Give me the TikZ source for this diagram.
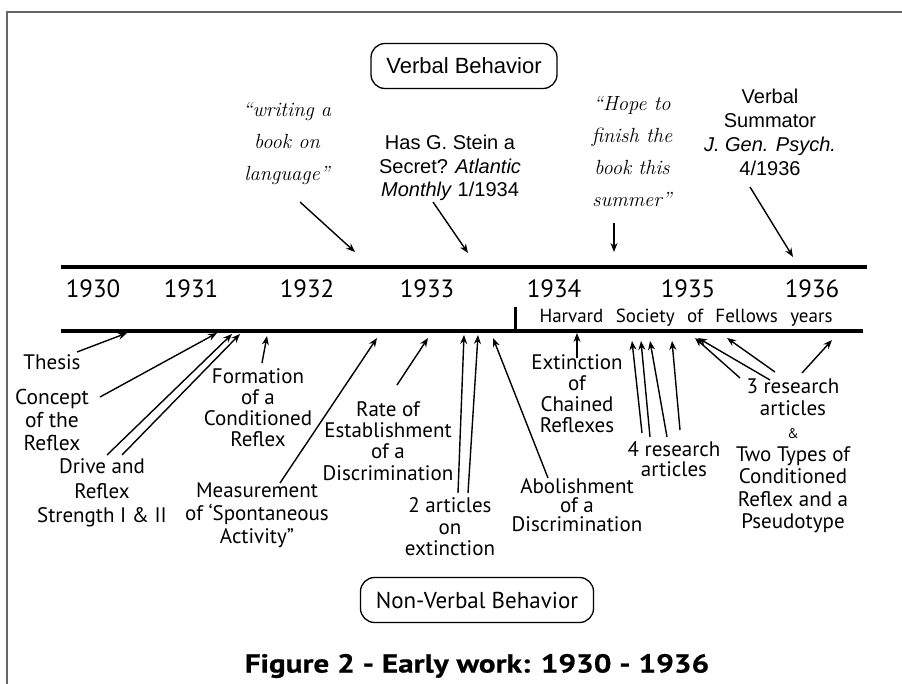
\documentclass[tikz,border=0pt]{standalone}
\usepackage{fontspec}
\usepackage{tikz}
\usetikzlibrary{arrows.meta}
\newfontfamily\gillfont{PT Sans}
\newfontfamily\titlefont[FakeStretch=1.2,FakeBold=0.6]{PT Sans Bold}
\newfontfamily\arialfont{Liberation Sans}

\begin{document}
\begin{tikzpicture}
  [x=1pt,y=-1pt,
   lab/.style={font=\gillfont\fontsize{21}{22}\selectfont,align=center,inner sep=0pt},
   yr/.style={font=\gillfont\fontsize{25}{25}\selectfont,inner sep=0pt},
   quote/.style={font=\itshape\fontsize{20.5}{32}\selectfont,align=center,inner sep=0pt},
   ref/.style={font=\arialfont\fontsize{20}{24}\selectfont,align=center,inner sep=0pt},
   box/.style={draw,line width=1.3pt,rounded corners=14pt,minimum height=45pt},
   arr/.style={-{Stealth[length=9pt,width=7pt]},line width=1.4pt}]
  \useasboundingbox (0,0) rectangle (902,684);
  \draw[black!60,line width=2pt] (902,12) -- (7,12) -- (7,684);

  \node[box,ref,font=\arialfont\fontsize{22}{22}\selectfont,minimum width=186pt] (verbal) at (464,66) {Verbal Behavior};
  \node[box,lab,font=\gillfont\fontsize{23}{23}\selectfont,minimum width=233pt] (nonverbal) at (477,600) {Non-Verbal Behavior};

  % verbal side
  \node[quote] (writing) at (287,143) {“writing a\\book on\\language”};
  \node[ref,font=\arialfont\fontsize{20}{23.5}\selectfont] (stein) at (450,168) {Has G. Stein a\\Secret? \textit{Atlantic}\\\textit{Monthly} 1/1934};
  \node[quote] (hope) at (632,152) {“Hope to\\finish the\\book this\\summer”};
  \node[ref] (summator) at (770,132) {Verbal\\Summator\\\textit{J. Gen. Psych.}\\4/1936};

  % time line
  \draw[line width=4.5pt] (61,267) -- (867,267);
  \draw[line width=4.5pt] (61,331) -- (863,331);
  \draw[line width=3pt] (515,307) -- (515,331);
  \foreach \yr/\x in {1930/93,1931/191,1932/307,1933/427,1934/554,1935/688,1936/812}
    \node[yr] (y\yr) at (\x,289) {\yr};
  \node[lab,font=\gillfont\fontsize{19}{19}\selectfont] (harvard) at (686,318)
    {\makebox[293pt][s]{Harvard Society of Fellows years}};

  % non-verbal side
  \node[lab] (thesis) at (52,362) {Thesis};
  \node[lab,font=\gillfont\fontsize{21.5}{23}\selectfont] (concept) at (52,420) {Concept\\of the\\Reflex};
  \node[lab,font=\gillfont\fontsize{21}{24.5}\selectfont] (drive) at (102,493) {Drive and\\Reflex\\Strength I \& II};
  \node[lab,font=\gillfont\fontsize{21}{21}\selectfont] (formation) at (258,408) {Formation\\of a\\Conditioned\\Reflex};
  \node[lab,font=\gillfont\fontsize{21}{23}\selectfont] (measure) at (257,515) {Measurement\\of ‘Spontaneous\\Activity”};
  \node[lab,font=\gillfont\fontsize{21}{21.3}\selectfont] (rate) at (388,441) {Rate of\\Establishment\\of a\\Discrimination};
  \node[lab,font=\gillfont\fontsize{21}{21.5}\selectfont] (twoart) at (450,527) {2 articles\\on\\extinction};
  \node[lab,font=\gillfont\fontsize{21}{19}\selectfont] (abol) at (577,505) {Abolishment\\of a\\Discrimination};
  \node[lab,font=\gillfont\fontsize{21}{21}\selectfont] (extinct) at (577,394) {Extinction\\of\\Chained\\Reflexes};
  \node[lab,font=\gillfont\fontsize{21}{20}\selectfont] (four) at (674,459) {4 research\\articles};
  \node[lab,font=\gillfont\fontsize{21}{22.6}\selectfont] (three) at (793,456)
    {3 research\\articles\\{\fontsize{14}{14}\selectfont\&}\\Two Types of\\Conditioned\\Reflex and a\\Pseudotype};

  \node[lab,font=\titlefont\fontsize{26}{26}\selectfont] (title) at (477,666) {Figure 2 - Early work: 1930 - 1936};

  \foreach \lab/\i/\dx/\dy/\ex/\ey in {writing/1/13/59/355/252, stein/1/-17/34/468/253,
      hope/1/-18/71/614/252, summator/1/-20/55/793/257,
      thesis/1/25/-10/127/333, concept/1/48/-23/217/333,
      drive/1/5/-38/232/334, drive/2/20/-38/240/334,
      formation/1/4/-45/267/336, measure/1/23/-32/377/338, rate/1/9/-56/428/338,
      twoart/1/8/-34/464/335, twoart/2/18/-34/478/335,
      abol/1/-29/-27/493/338, extinct/1/0/-36/577/333,
      four/1/-32/-26/632/341, four/2/-24/-22/641/341, four/3/-7/-22/650/341, four/4/6/-29/672/341,
      three/1/-53/-78/695/338, three/2/-23/-76/698/338, three/3/-18/-84/727/338, three/4/9/-83/832/340}{
    \coordinate (\lab-tip\i) at (\ex,\ey);
    \draw[arr] ([shift={(\dx,\dy)}]\lab.center) -- (\lab-tip\i);
  }

\end{tikzpicture}
\end{document}
